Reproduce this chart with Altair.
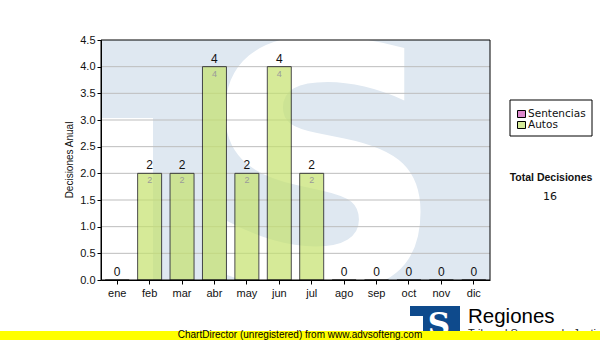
import altair as alt
import pandas as pd

# ---------------- data ----------------
months = ["ene", "feb", "mar", "abr", "may", "jun", "jul", "ago", "sep", "oct", "nov", "dic"]
autos = [0, 2, 2, 4, 2, 4, 2, 0, 0, 0, 0, 0]
sentencias = [0, 0, 0, 0, 0, 0, 0, 0, 0, 0, 0, 0]
y_ticks = [0.0, 0.5, 1.0, 1.5, 2.0, 2.5, 3.0, 3.5, 4.0, 4.5]
legend_labels = ["Sentencias", "Autos"]
legend_colors = ["#dc88cc", "#d5eb99"]
y_title = "Decisiones Anual"
total_title = "Total Decisiones"
footer_text = "ChartDirector (unregistered) from www.advsofteng.com"
brand_text = "Regiones"
brand_sub = "Tribunal Supremo de Justicia"

# ---------------- layout ----------------
W, H = 389, 240
PAD = {"left": 101, "top": 40, "right": 110, "bottom": 60}
WM_BLUE = "#dfe8f1"

df = pd.DataFrame({"mes": months, "autos": autos, "sentencias": sentencias})
df["total"] = df["autos"] + df["sentencias"]
one = pd.DataFrame({"k": [0]})
grid_df = pd.DataFrame({"v": [t for t in y_ticks if 0 < t < max(y_ticks)]})
total_df = pd.DataFrame({"t": [str(int(df["total"].sum()))]})

yscale = alt.Scale(domain=[0, max(y_ticks)], nice=False)
xscale = alt.Scale(domain=months, paddingInner=0.26, paddingOuter=0.13)

x_axis = alt.Axis(title=None, labelAngle=0, tickSize=4, labelPadding=3,
                  labelFont="Liberation Sans", labelFontSize=11, labelColor="#111",
                  domainColor="black", tickColor="black", zindex=1, grid=False)
y_axis = alt.Axis(title=None, values=y_ticks, format=".1f", tickSize=4, labelPadding=2,
                  labelFont="Liberation Sans", labelFontSize=11, labelColor="#111",
                  domainColor="black", tickColor="black", zindex=1, grid=False)


def xe():
    return alt.X("mes:N", sort=months, scale=xscale, axis=x_axis)


def ye(field):
    return alt.Y(field, scale=yscale, axis=y_axis)


base1 = alt.Chart(one)

# watermark: light blue field, white corner, giant white "S"
wm_bg = base1.mark_rect(color=WM_BLUE).encode(
    x=alt.value(0), x2=alt.value(W), y=alt.value(0), y2=alt.value(H))
wm_white = base1.mark_rect(color="white").encode(
    x=alt.value(0), x2=alt.value(52), y=alt.value(78), y2=alt.value(H))
wm_s = base1.mark_text(text="S", font="DejaVu Sans", fontWeight="bold", fontSize=340,
                       color="white", align="center", baseline="alphabetic", clip=True).encode(
    x=alt.value(222), y=alt.value(248))

grid = alt.Chart(grid_df).mark_rule(color="#bdbdbd", strokeWidth=1).encode(y=ye("v:Q"))

bars = alt.Chart(df).mark_bar(color="#c5e26d", opacity=0.7, stroke="black",
                              strokeWidth=1, strokeOpacity=1).encode(x=xe(), y=ye("autos:Q"))

top_lbl = alt.Chart(df).mark_text(font="Liberation Sans", fontSize=12, color="#111",
                                  baseline="bottom", dy=-1).encode(
    x=xe(), y=ye("total:Q"), text=alt.Text("total:Q"))

in_lbl = alt.Chart(df).transform_filter("datum.autos > 0").mark_text(
    font="Liberation Sans", fontSize=9, color="#9a9a9a", baseline="top", dy=3).encode(
    x=xe(), y=ye("autos:Q"), text=alt.Text("autos:Q"))

border = base1.mark_rect(fillOpacity=0, stroke="black", strokeWidth=1).encode(
    x=alt.value(0), x2=alt.value(W), y=alt.value(0), y2=alt.value(H))

ytitle = base1.mark_text(text=y_title, font="Liberation Sans", fontSize=10, color="#111",
                         angle=270, align="center", baseline="middle").encode(
    x=alt.value(-31), y=alt.value(120))

# legend box
leg_layers = [base1.mark_rect(fill="white", stroke="black", strokeWidth=1).encode(
    x=alt.value(409), x2=alt.value(491), y=alt.value(60), y2=alt.value(96))]
for i, (lab, col) in enumerate(zip(legend_labels, legend_colors)):
    yy = 74 + 11 * i
    leg_layers.append(base1.mark_rect(fill=col, stroke="black", strokeWidth=1).encode(
        x=alt.value(416.5), x2=alt.value(424.5), y=alt.value(yy - 3.5), y2=alt.value(yy + 3.5)))
    leg_layers.append(base1.mark_text(text=lab, font="DejaVu Sans", fontSize=10.5, color="#111",
                                      align="left", baseline="middle").encode(
        x=alt.value(427), y=alt.value(yy)))

tot_title = base1.mark_text(text=total_title, font="Liberation Sans", fontWeight="bold",
                            fontSize=10.5, color="#111", align="center", baseline="middle").encode(
    x=alt.value(450), y=alt.value(138))
tot_val = alt.Chart(total_df).mark_text(font="DejaVu Sans", fontSize=11, color="#111",
                                        align="center", baseline="middle").encode(
    x=alt.value(449), y=alt.value(157), text="t:N")

# brand logo
logo_bg = base1.mark_rect(color="#0e4a8c").encode(
    x=alt.value(309), x2=alt.value(359), y=alt.value(266), y2=alt.value(300))
logo_w = base1.mark_rect(color="white").encode(
    x=alt.value(309), x2=alt.value(322), y=alt.value(276), y2=alt.value(300))
logo_s = base1.mark_text(text="S", font="DejaVu Serif", fontWeight="bold", fontSize=31,
                         color="white", align="center", baseline="alphabetic").encode(
    x=alt.value(338), y=alt.value(295))
brand = base1.mark_text(text=brand_text, font="Liberation Sans", fontSize=20.5, color="black",
                        align="left", baseline="alphabetic").encode(
    x=alt.value(367), y=alt.value(283))
brand2 = base1.mark_text(text=brand_sub, font="Liberation Sans", fontSize=11, color="#222",
                         align="left", baseline="top").encode(
    x=alt.value(367), y=alt.value(288))

footer_bg = base1.mark_rect(color="#ffff00").encode(
    x=alt.value(-101), x2=alt.value(499), y=alt.value(291), y2=alt.value(300))
footer = base1.mark_text(text=footer_text, font="Liberation Sans", fontSize=10, color="black",
                         align="center", baseline="alphabetic").encode(
    x=alt.value(199), y=alt.value(298))

chart = alt.layer(
    wm_bg, wm_white, wm_s, grid, bars, top_lbl, in_lbl, border, ytitle,
    *leg_layers, tot_title, tot_val,
    logo_bg, logo_w, logo_s, brand, brand2, footer_bg, footer
).properties(
    width=W, height=H,
    autosize=alt.AutoSizeParams(type="none"),
    padding=PAD,
    background="white",
).configure_view(stroke=None)

chart.save("out.html", embed_options={"renderer": "svg", "actions": False})
